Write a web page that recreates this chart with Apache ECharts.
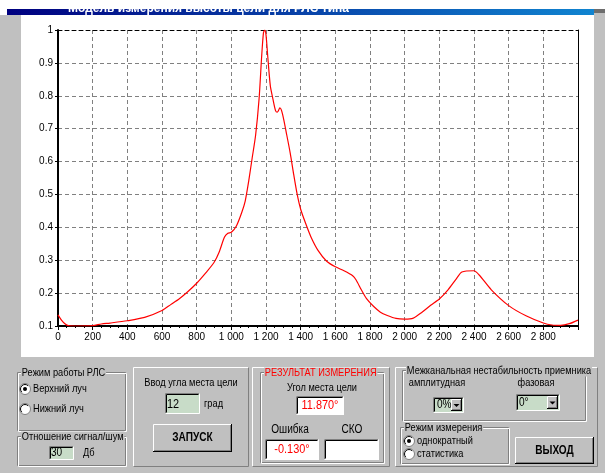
<!DOCTYPE html>
<html>
<head>
<meta charset="utf-8">
<script src="https://cdn.jsdelivr.net/npm/echarts@6/dist/echarts.min.js"></script>
<style>
html,body{margin:0;padding:0;background:#c0c0c0;}
#chart{width:605px;height:473px;}
</style>
</head>
<body>
<div id="chart"></div>
<script>
// ---- data ----
const xValues = [0,20,40,60,100,200,250,300,400,500,600,650,700,750,800,850,900,930,960,980,1000,1030,1060,1080,1100,1120,1140,1160,1175,1185,1192,1200,1210,1225,1240,1255,1265,1280,1295,1320,1340,1360,1380,1400,1430,1460,1500,1550,1600,1650,1700,1720,1750,1780,1820,1860,1900,1950,2000,2050,2100,2150,2200,2250,2300,2330,2400,2430,2500,2600,2700,2800,2850,2900,2950,3000];
const signalValues = [0.134,0.118,0.107,0.101,0.100,0.101,0.106,0.109,0.116,0.126,0.147,0.165,0.183,0.205,0.230,0.260,0.293,0.325,0.370,0.382,0.385,0.405,0.445,0.480,0.540,0.610,0.680,0.790,0.920,0.990,1.000,0.985,0.920,0.830,0.790,0.755,0.750,0.763,0.745,0.680,0.625,0.560,0.500,0.455,0.410,0.370,0.330,0.297,0.280,0.268,0.253,0.240,0.210,0.183,0.160,0.142,0.132,0.123,0.121,0.124,0.142,0.163,0.182,0.210,0.245,0.264,0.268,0.255,0.210,0.162,0.131,0.109,0.103,0.102,0.107,0.118];
const xRange = [0, 3000, 200];
const yRange = [0.1, 1, 0.1];

const seriesData = xValues.map((x, i) => [x, signalValues[i]]);

const FONT = '"Liberation Sans", Arial, sans-serif';
const G = '#c0c0c0';
const SX = 0.84;
function T(x, y, s, o) {
  o = o || {};
  return {type:'text', x:x, y:y, z:o.z||20, scaleX:o.sx||SX, originX:0, originY:0,
    style:{text:s, fill:o.fill||'#000',
    font:(o.bold?'bold ':'')+(o.size||11)+'px '+FONT, textAlign:o.align||'left', textVerticalAlign:'middle',
    backgroundColor:o.bg, padding:o.pad}};
}
function L(x1,y1,x2,y2,c,z){return {type:'line', z:z||10, shape:{x1:x1,y1:y1,x2:x2,y2:y2}, style:{stroke:c,lineWidth:1}};}
function R(x,y,w,h,fill,z,stroke){return {type:'rect', z:z||5, shape:{x:x,y:y,width:w,height:h}, style:{fill:fill, stroke:stroke||null, lineWidth:1}};}
function raised(x1,y1,x2,y2){
  return [R(x1,y1,x2-x1,y2-y1,G,4),
    L(x1+.5,y1+.5,x2-.5,y1+.5,'#fff'), L(x1+.5,y1+.5,x1+.5,y2-.5,'#fff'),
    L(x1+.5,y2-.5,x2-.5,y2-.5,'#808080'), L(x2-.5,y1+.5,x2-.5,y2-.5,'#808080')];
}
function button(x1,y1,x2,y2,label){
  const a = [R(x1,y1,x2-x1,y2-y1,G,6),
    L(x1+.5,y1+.5,x2-1,y1+.5,'#fff',11), L(x1+.5,y1+.5,x1+.5,y2-1,'#fff',11),
    L(x1,y2-.5,x2,y2-.5,'#000',11), L(x2-.5,y1,x2-.5,y2,'#000',11),
    L(x1+1,y2-1.5,x2-1,y2-1.5,'#808080',11), L(x2-1.5,y1+1,x2-1.5,y2-1,'#808080',11)];
  if (label) a.push(T((x1+x2)/2,(y1+y2)/2,label,{bold:true,align:'center',size:12}));
  return a;
}
function sunken(x1,y1,x2,y2,fill){
  return [R(x1,y1,x2-x1,y2-y1,fill,6),
    L(x1+.5,y1+.5,x2-.5,y1+.5,'#808080',11), L(x1+.5,y1+.5,x1+.5,y2-.5,'#808080',11),
    L(x1+1.5,y1+1.5,x2-1.5,y1+1.5,'#000',11), L(x1+1.5,y1+1.5,x1+1.5,y2-1.5,'#000',11),
    L(x1+.5,y2-.5,x2-.5,y2-.5,'#fff',11), L(x2-.5,y1+.5,x2-.5,y2-.5,'#fff',11)];
}
function groupBox(x1,y1,x2,y2,title,o){
  o = o||{};
  return [
    R(x1+.5,y1+.5,x2-x1-1,y2-y1-1,null,7,'#808080'),
    R(x1+1.5,y1+1.5,x2-x1-1,y2-y1-1,null,7,'#fff'),
    T(x1+4,y1+1,title,Object.assign({bg:G,pad:[0,1,0,1]},o))];
}
function radio(cx,cy,on){
  const a = [
    {type:'circle', z:12, shape:{cx:cx,cy:cy,r:5.5}, style:{fill:'#fff', stroke:'#808080', lineWidth:1}},
    {type:'arc', z:13, shape:{cx:cx,cy:cy,r:4.5,startAngle:Math.PI*0.75,endAngle:Math.PI*1.75}, style:{stroke:'#000',lineWidth:1,fill:null}}
  ];
  if (on) a.push({type:'circle', z:14, shape:{cx:cx,cy:cy,r:2}, style:{fill:'#000'}});
  return a;
}
function dropdown(x1,y1,x2,y2,val,bw,tx){
  const a = sunken(x1,y1,x2,y2,'#c8dcc8');
  a.push(...button(x2-2-bw,y1+2,x2-2,y2-2,''));
  const cx = x2-2-bw/2, cy=(y1+y2)/2;
  a.push({type:'polygon', z:15, shape:{points:[[cx-3,cy-1],[cx+3,cy-1],[cx,cy+2]]}, style:{fill:'#000'}});
  a.push(T(tx,cy,val,{size:12}));
  return a;
}

const graphics = [];
// window frame
graphics.push(R(0,0,7,15,'#fff',1));
graphics.push({type:'rect', z:2, shape:{x:7,y:9,width:587,height:6},
  style:{fill:new echarts.graphic.LinearGradient(0,0,1,0,[{offset:0,color:'#000080'},{offset:1,color:'#1084d0'}])}});
graphics.push(T(68,9,'Модель измерения высоты цели для РЛС типа',{fill:'#fff',bold:true,size:12,z:3,sx:1}));
graphics.push(R(0,0,605,9,'#fff',4));
graphics.push(R(594,9,11,4,'#6d6d6d',4));
graphics.push(R(21,15,573,342,'#fff',-10));

// left groups
graphics.push(...groupBox(17,372,126,431,'Режим работы РЛС'));
graphics.push(...radio(25,389,true), T(33,389,'Верхний луч'));
graphics.push(...radio(25,409,false), T(33,409,'Нижний луч'));
graphics.push(...groupBox(17,436,126,466,'Отношение сигнал/шум'));
graphics.push(...sunken(49,446,74,460,'#c8dcc8'), T(51,453,'30',{size:12}), T(83,453,'Дб'));

// panel A
graphics.push(...raised(133,367,249,467));
graphics.push(T(191,383,'Ввод угла места цели',{align:'center'}));
graphics.push(...sunken(165,393,200,414,'#c8dcc8'), T(167,404,'12',{size:13}), T(204,404,'град'));
graphics.push(...button(153,424,232,452,'ЗАПУСК'));

// panel B
graphics.push(...raised(252,367,390,467));
graphics.push(...groupBox(260,372,384,463,'РЕЗУЛЬТАТ ИЗМЕРЕНИЯ',{fill:'#ff0000',size:11}));
graphics.push(T(322,388,'Угол места цели',{align:'center'}));
graphics.push(...sunken(296,396,344,415,'#fff'), T(320,405.5,'11.870°',{align:'center',fill:'#ff0000',size:13}));
graphics.push(T(290,430,'Ошибка',{align:'center',size:12}), T(352,430,'СКО',{align:'center',size:12}));
graphics.push(...sunken(265,439,319,460,'#fff'), T(292,449.5,'-0.130°',{align:'center',fill:'#ff0000',size:13}));
graphics.push(...sunken(324,439,379,460,'#fff'));

// panel C
graphics.push(...raised(395,367,598,467));
graphics.push(...groupBox(402,370,586,421,'Межканальная нестабильность приемника'));
graphics.push(T(437,383,'амплитудная',{align:'center'}), T(536,383,'фазовая',{align:'center'}));
graphics.push(...dropdown(433,397,464,413,'0%',11,437));
graphics.push(...dropdown(516,394,560,411,'0°',11,519));
graphics.push(...groupBox(400,427,509,464,'Режим измерения'));
graphics.push(...radio(409,441,true), T(417,441,'однократный'));
graphics.push(...radio(409,454,false), T(417,454,'статистика'));
graphics.push(...button(515,437,594,464,'ВЫХОД'));

const fmtX = v => v >= 3000 ? '' : String(v).replace(/\B(?=(\d{3})+(?!\d))/g, ' ');
const fmtY = v => String(+v.toFixed(1));

const chart = echarts.init(document.getElementById('chart'), null, {renderer:'canvas'});
chart.setOption({
  backgroundColor: G,
  animation: false,
  graphic: graphics,
  grid: {left:58, right:27, top:30, bottom:147, containLabel:false},
  xAxis: [{
    type:'value', min:xRange[0], max:xRange[1], interval:xRange[2], position:'bottom',
    axisLine:{show:true, onZero:false, lineStyle:{color:'#000', width:2}},
    axisTick:{show:true, length:4, lineStyle:{color:'#000'}},
    minorTick:{show:true, splitNumber:4, length:2, lineStyle:{color:'#000'}},
    splitLine:{show:true, lineStyle:{color:'#808080', type:[4,3], width:1}},
    axisLabel:{formatter:fmtX, fontSize:10, color:'#000', fontFamily:FONT, margin:6, showMaxLabel:true}
  },{
    type:'value', min:xRange[0], max:xRange[1], position:'top',
    axisLine:{show:true, onZero:false, lineStyle:{color:'#000', width:1, type:[4,3]}},
    axisTick:{show:false}, axisLabel:{show:false}, splitLine:{show:false}
  }],
  yAxis: [{
    type:'value', min:yRange[0], max:yRange[1], interval:yRange[2],
    axisLine:{show:true, onZero:false, lineStyle:{color:'#000', width:2}},
    axisTick:{show:true, length:3, lineStyle:{color:'#000'}},
    splitLine:{show:true, lineStyle:{color:'#808080', type:[4,3], width:1}},
    axisLabel:{formatter:fmtY, fontSize:10, color:'#000', fontFamily:FONT, margin:5}
  },{
    type:'value', min:yRange[0], max:yRange[1], position:'right',
    axisLine:{show:true, onZero:false, lineStyle:{color:'#000', width:1}},
    axisTick:{show:false}, axisLabel:{show:false}, splitLine:{show:false}
  }],
  series: [{
    type:'line', data:seriesData, xAxisIndex:0, yAxisIndex:0,
    showSymbol:false, smooth:0.25, clip:true,
    lineStyle:{color:'#ff0000', width:1.2}
  }]
});
</script>
</body>
</html>
